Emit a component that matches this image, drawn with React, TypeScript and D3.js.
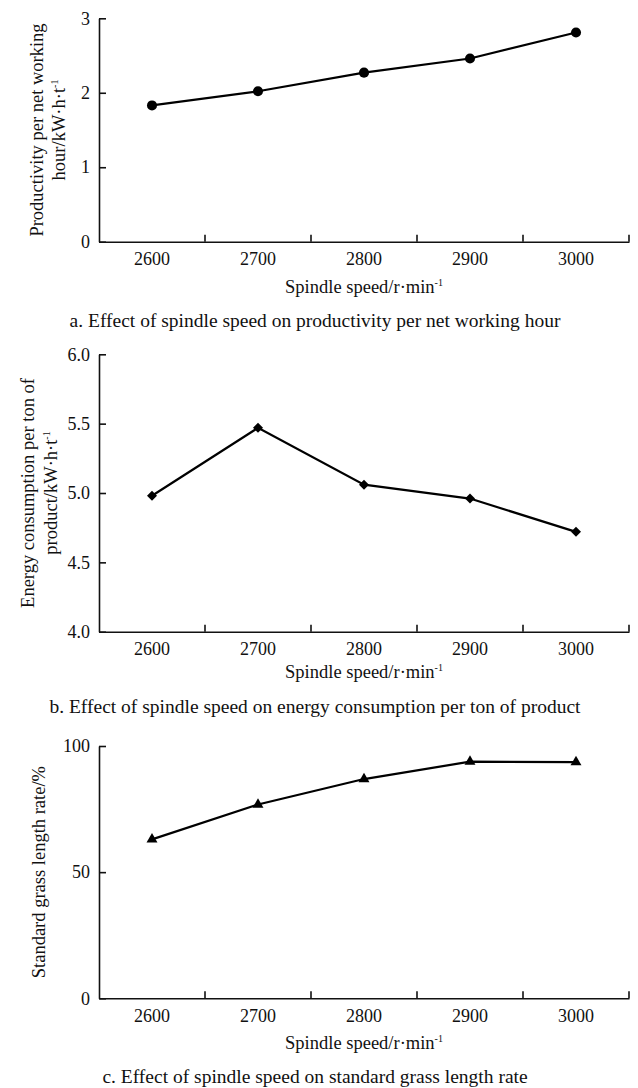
import { useEffect, useRef } from 'react';
import * as d3 from 'd3';

// categories (spindle speed, r/min)
const speeds = ['2600', '2700', '2800', '2900', '3000'];

// series values
const productivity = [1.83, 2.02, 2.27, 2.46, 2.81];
const energy = [4.98, 5.47, 5.06, 4.96, 4.72];
const grassRate = [63.0, 76.8, 86.9, 93.8, 93.6];

// y tick values
const productivityTicks = [0, 1, 2, 3];
const energyTicks = [4.0, 4.5, 5.0, 5.5, 6.0];
const grassTicks = [0, 50, 100];

const xTitle = 'Spindle speed/r·min';
const captions = [
  'a. Effect of spindle speed on productivity per net working hour',
  'b. Effect of spindle speed on energy consumption per ton of product',
  'c. Effect of spindle speed on standard grass length rate',
];

const FONT = '"Liberation Serif", "Times New Roman", Times, serif';
const INK = '#111';
const LEFT = 99;
const RIGHT = 629;

const panels = [
  {
    values: productivity,
    domain: [0, 3],
    ticks: productivityTicks,
    fmt: 'd',
    top: 18.3,
    bottom: 241.7,
    marker: 'circle',
    yTitle: [
      { text: 'Productivity per net working', sup: '', x: 43 },
      { text: 'hour/kW·h·t', sup: '-1', x: 65 },
    ],
    xTitleY: 293,
    captionY: 327,
    caption: captions[0],
  },
  {
    values: energy,
    domain: [4, 6],
    ticks: energyTicks,
    fmt: '.1f',
    top: 354.3,
    bottom: 631.7,
    marker: 'diamond',
    yTitle: [
      { text: 'Energy consumption per ton of', sup: '', x: 34 },
      { text: 'product/kW·h·t', sup: '-1', x: 57 },
    ],
    xTitleY: 678,
    captionY: 713,
    caption: captions[1],
  },
  {
    values: grassRate,
    domain: [0, 100],
    ticks: grassTicks,
    fmt: 'd',
    top: 746,
    bottom: 998.3,
    marker: 'triangle',
    yTitle: [{ text: 'Standard grass length rate/%', sup: '', x: 45 }],
    xTitleY: 1049,
    captionY: 1083,
    caption: captions[2],
  },
];

const render = (node, cfg) => {
  const g = d3.select(node);
  g.selectAll('*').remove();

  const x = d3.scaleBand().domain(speeds).range([LEFT, RIGHT]);
  const y = d3.scaleLinear().domain(cfg.domain).range([cfg.bottom, cfg.top]);
  const cx = (d) => x(d) + x.bandwidth() / 2;

  // y axis, ticks pointing inward
  const yAxis = g
    .append('g')
    .attr('transform', `translate(${LEFT},0)`)
    .call(
      d3
        .axisLeft(y)
        .tickValues(cfg.ticks)
        .tickFormat(d3.format(cfg.fmt))
        .tickSizeInner(-7)
        .tickSizeOuter(0)
        .tickPadding(9),
    )
    .attr('font-family', FONT)
    .attr('font-size', 18);
  yAxis.selectAll('path, line').attr('stroke', INK).attr('stroke-width', 1.6);
  yAxis.selectAll('text').attr('fill', INK);

  // x axis, labels under band centres
  const xAxis = g
    .append('g')
    .attr('transform', `translate(0,${cfg.bottom})`)
    .call(d3.axisBottom(x).tickSize(0).tickPadding(10.5))
    .attr('font-family', FONT)
    .attr('font-size', 18);
  xAxis.select('.domain').attr('stroke', INK).attr('stroke-width', 1.6);
  xAxis.selectAll('text').attr('fill', INK);

  // small upward ticks on band boundaries
  g.append('g')
    .selectAll('line')
    .data(speeds)
    .enter()
    .append('line')
    .attr('x1', (d) => x(d) + x.bandwidth())
    .attr('x2', (d) => x(d) + x.bandwidth())
    .attr('y1', cfg.bottom)
    .attr('y2', cfg.bottom - 7)
    .attr('stroke', INK)
    .attr('stroke-width', 1.6);

  // line
  const line = d3
    .line()
    .x((d, i) => cx(speeds[i]))
    .y((d) => y(d));
  g.append('path')
    .datum(cfg.values)
    .attr('d', line)
    .attr('fill', 'none')
    .attr('stroke', '#000')
    .attr('stroke-width', 2.2);

  // markers
  const symType =
    cfg.marker === 'circle'
      ? d3.symbolCircle
      : cfg.marker === 'diamond'
        ? d3.symbolSquare
        : d3.symbolTriangle;
  const symSize = cfg.marker === 'circle' ? 80 : cfg.marker === 'diamond' ? 50 : 52;
  const rot = cfg.marker === 'diamond' ? 45 : 0;
  g.append('g')
    .selectAll('path')
    .data(cfg.values)
    .enter()
    .append('path')
    .attr('d', d3.symbol().type(symType).size(symSize))
    .attr(
      'transform',
      (d, i) => `translate(${cx(speeds[i])},${y(d)}) rotate(${rot})`,
    )
    .attr('fill', '#000');

  // y title (rotated)
  const midY = (cfg.top + cfg.bottom) / 2;
  cfg.yTitle.forEach((t) => {
    const txt = g
      .append('text')
      .attr('transform', `translate(${t.x},${midY}) rotate(-90)`)
      .attr('text-anchor', 'middle')
      .attr('font-family', FONT)
      .attr('font-size', 18.5)
      .attr('fill', INK)
      .text(t.text);
    if (t.sup) {
      txt
        .append('tspan')
        .attr('font-size', 10)
        .attr('dy', -7)
        .text(t.sup);
    }
  });

  // x title
  const xt = g
    .append('text')
    .attr('x', (LEFT + RIGHT) / 2)
    .attr('y', cfg.xTitleY)
    .attr('text-anchor', 'middle')
    .attr('font-family', FONT)
    .attr('font-size', 18.5)
    .attr('fill', INK)
    .text(xTitle);
  xt.append('tspan').attr('font-size', 10).attr('dy', -7).text('-1');

  // caption
  g.append('text')
    .attr('x', 315)
    .attr('y', cfg.captionY)
    .attr('text-anchor', 'middle')
    .attr('font-family', FONT)
    .attr('font-size', 19.5)
    .attr('fill', INK)
    .text(cfg.caption);
};

const Panel = ({ cfg }) => {
  const ref = useRef(null);
  useEffect(() => {
    render(ref.current, cfg);
  }, [cfg]);
  return <g ref={ref}></g>;
};

export default function App() {
  return (
    <svg
      width={638}
      height={1088}
      style={{ position: 'absolute', left: 0, top: 0, background: '#fff' }}
    >
      {panels.map((p, i) => (
        <Panel key={i} cfg={p} />
      ))}
    </svg>
  );
}
